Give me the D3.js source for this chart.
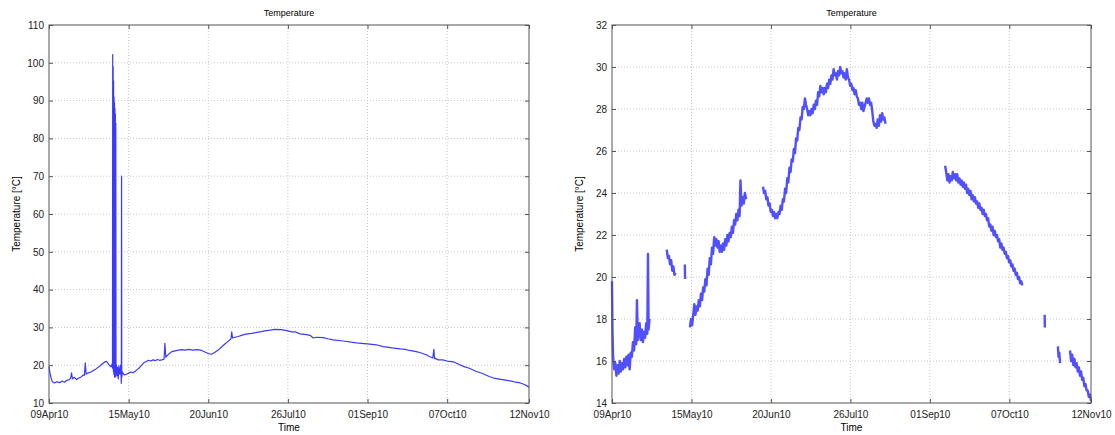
<!DOCTYPE html>
<html>
<head>
<meta charset="utf-8">
<script src="https://cdn.jsdelivr.net/npm/d3@7"></script>
<style>
  body { margin: 0; background: #fff; }
  svg { font-family: "Liberation Sans", Arial, sans-serif; }
  .grid line { stroke: #c8c8c8; stroke-dasharray: 1,2; }
  .tick text { font-size: 10px; fill: #222; }
  .axis path, .axis line { stroke: #555; }
</style>
</head>
<body>
<svg id="chart" width="1115" height="435"></svg>
<script>
// x = days since 09 Apr 2010
const startDate = new Date(2010, 3, 9);
const tickDays = [0, 36, 72, 108, 144, 180, 217];
const tickLabels = ["09Apr10", "15May10", "20Jun10", "26Jul10", "01Sep10", "07Oct10", "12Nov10"];
const leftTicksY = [10, 20, 30, 40, 50, 60, 70, 80, 90, 100, 110];
const rightTicksY = [14, 16, 18, 20, 22, 24, 26, 28, 30, 32];

// raw record (left panel): [day, °C]
const rawSeries = [
  [0, 19.6], [0.5, 17.8], [1, 16.5], [1.5, 15.6], [2.5, 15.3], [3.5, 15.6], [5, 15.4], [6, 15.8], [7, 15.5],
  [8, 16.0], [9, 16.1], [9.8, 16.6], [10.2, 18.0], [10.6, 16.4], [11.5, 16.8], [12.5, 16.2], [13.5, 16.6],
  [14.5, 16.9], [15.5, 17.4], [16, 17.3], [16.4, 20.6], [16.8, 17.6], [17.5, 17.9], [19, 18.2], [21, 18.9],
  [23, 19.8], [25, 20.8], [26, 21.0], [27, 20.2], [28, 19.6], [28.5, 20.3], [28.7, 19.2], [28.8, 102.2],
  [28.9, 19.5], [29.0, 99.0], [29.1, 18.4], [29.2, 95.2], [29.3, 17.6], [29.4, 91.0], [29.5, 19.0],
  [29.6, 89.5], [29.7, 16.8], [29.8, 88.0], [29.9, 18.2], [30.0, 86.5], [30.1, 17.0], [30.2, 84.0],
  [30.3, 18.5], [30.5, 20.1], [30.7, 17.2], [31, 19.4], [31.3, 16.4], [31.6, 19.8], [32, 17.6], [32.4, 20.0],
  [32.7, 15.2], [32.8, 70.0], [32.9, 16.8], [33.2, 18.2], [34, 17.4], [35, 17.6], [36, 17.9], [37, 18.2],
  [38, 18.0], [39, 18.4], [40, 18.9], [41, 19.4], [42, 20.1], [43, 20.7], [44, 21.0], [45, 21.3], [46, 21.1],
  [47, 21.4], [48, 21.2], [49, 21.5], [50, 21.3], [51, 21.4], [52, 21.6], [52.4, 25.8], [52.8, 22.1],
  [53.5, 22.6], [54.5, 23.1], [55.5, 23.6], [57, 23.8], [58.5, 24.0], [60, 24.1], [61.5, 24.0], [63, 24.2],
  [65, 24.0], [67, 24.1], [69, 23.9], [70.5, 23.5], [72, 23.1], [73.5, 22.9], [75, 23.4], [76.5, 24.0],
  [78, 24.8], [79.5, 25.6], [81, 26.3], [82.3, 27.0], [82.6, 28.8], [83, 27.2], [84, 27.4], [85.6, 27.6],
  [87, 27.9], [89, 28.2], [91.6, 28.4], [94, 28.7], [96, 28.9], [97.6, 29.1], [100, 29.3], [102, 29.5],
  [105, 29.4], [107, 29.2], [109.7, 28.8], [111.5, 28.8], [113.5, 28.3], [116.5, 28.1], [118, 27.9],
  [119.5, 27.2], [121, 27.4], [124, 27.3], [126, 27.0], [128.5, 26.7], [133, 26.4], [139, 25.9],
  [145, 25.6], [148, 25.4], [151, 24.9], [153, 24.8], [155, 24.6], [158.7, 24.3], [161, 24.2], [163, 23.9],
  [166, 23.6], [168, 23.3], [170.8, 22.7], [172, 22.3], [173.5, 21.9], [174, 24.2], [174.3, 21.7],
  [174.6, 21.8], [176, 21.4], [178, 21.4], [180, 21.1], [182.8, 20.9], [185, 20.3], [187.3, 19.7],
  [190, 19.2], [193, 18.4], [196, 17.8], [199, 17.0], [201, 16.6], [203, 16.4], [205, 16.2], [207, 16.0],
  [209, 15.8], [211, 15.5], [213, 15.3], [215, 14.9], [217, 14.2]
];

// cleaned record (right panel): [day, °C], null = removed data
const cleanSeries = [
  [0, 19.8], [0.2, 17.5], [0.5, 16.2], [1, 15.6], [1.5, 15.9], [2, 15.3], [2.5, 15.8], [3, 15.4],
  [3.5, 16.0], [4, 15.5], [4.5, 15.9], [5, 15.6], [5.5, 16.1], [6, 15.7], [6.5, 16.2], [7, 15.8],
  [7.5, 16.3], [8, 15.6], [8.5, 16.4], [9, 16.2], [9.5, 16.9], [10, 16.5], [10.5, 17.6], [11, 16.8],
  [11.3, 18.9], [11.7, 17.0], [12, 17.5], [12.5, 17.8], [13, 17.0], [13.5, 17.5], [14, 16.9], [14.5, 17.4],
  [15, 17.1], [15.5, 17.8], [16, 17.3], [16.3, 21.1], [16.6, 17.5], [17, 18.0], [17.1, null],
  [24.8, 21.3], [25.3, 20.9], [25.8, 21.0], [26.3, 20.6], [26.8, 20.8], [27.3, 20.3], [27.8, 20.5],
  [28.3, 20.1], [28.8, 20.2], [28.9, null],
  [33, 20.6], [33.1, 19.9], [33.2, null],
  [35.3, 17.6], [35.8, 18.0], [36.3, 17.7], [36.8, 18.2], [37.3, 18.7], [37.8, 18.2], [38.3, 18.6],
  [38.8, 18.4], [39.3, 18.9], [39.8, 18.6], [40.3, 19.2], [40.8, 18.9], [41.3, 19.5], [41.8, 19.3],
  [42.3, 19.9], [42.8, 19.6], [43.3, 20.4], [43.8, 20.1], [44.3, 20.9], [44.8, 20.6], [45.3, 21.4],
  [45.8, 21.1], [46.3, 21.9], [46.8, 21.5], [47.3, 21.8], [47.8, 21.4], [48.3, 21.7], [48.8, 21.2],
  [49.3, 21.5], [49.8, 21.2], [50.3, 21.6], [50.8, 21.3], [51.3, 21.8], [51.8, 21.5], [52.3, 22.0],
  [52.8, 21.7], [53.3, 22.1], [53.8, 21.9], [54.3, 22.4], [54.8, 22.1], [55.3, 22.7], [55.8, 22.5],
  [56.3, 23.0], [56.8, 22.7], [57.3, 23.2], [57.8, 22.9], [58.2, 24.6], [58.7, 23.4], [59.2, 23.8],
  [59.7, 23.5], [60.2, 24.0], [60.8, 23.7], [60.9, null],
  [68.4, 24.3], [68.9, 24.0], [69.4, 24.1], [69.9, 23.7], [70.4, 23.8], [70.9, 23.4], [71.4, 23.5],
  [71.9, 23.1], [72.4, 23.2], [72.9, 22.9], [73.4, 23.1], [73.9, 22.8], [74.4, 23.0], [74.9, 22.8],
  [75.4, 23.1], [75.9, 23.0], [76.4, 23.4], [76.9, 23.2], [77.4, 23.7], [77.9, 23.6], [78.4, 24.2],
  [78.9, 24.0], [79.4, 24.7], [79.9, 24.5], [80.4, 25.2], [80.9, 25.0], [81.4, 25.6], [81.9, 25.5],
  [82.4, 26.1], [82.9, 25.9], [83.4, 26.6], [83.9, 26.5], [84.4, 27.1], [84.9, 27.0], [85.4, 27.6],
  [85.9, 27.5], [86.4, 28.1], [86.9, 28.0], [87.4, 28.5], [87.9, 28.2], [88.4, 28.0], [88.9, 27.7],
  [89.4, 27.9], [89.9, 27.7], [90.4, 28.0], [90.9, 27.8], [91.4, 28.2], [91.9, 28.0], [92.4, 28.4],
  [92.9, 28.2], [93.4, 28.8], [93.9, 28.6], [94.4, 29.1], [94.9, 28.8], [95.4, 29.0], [95.9, 28.7],
  [96.4, 29.0], [96.9, 28.8], [97.4, 29.2], [97.9, 29.0], [98.4, 29.4], [98.9, 29.2], [99.4, 29.6],
  [99.9, 29.4], [100.4, 29.9], [100.9, 29.6], [101.4, 29.7], [101.9, 29.4], [102.4, 29.8], [102.9, 29.6],
  [103.4, 30.0], [103.9, 29.7], [104.4, 29.8], [104.9, 29.5], [105.4, 29.7], [105.9, 29.4], [106.4, 29.9],
  [106.9, 29.5], [107.4, 29.4], [107.9, 29.1], [108.4, 29.2], [108.9, 28.9], [109.4, 29.0], [109.9, 28.7],
  [110.4, 28.9], [110.9, 28.6], [111.4, 28.5], [111.9, 28.2], [112.4, 28.3], [112.9, 28.0], [113.4, 28.3],
  [113.9, 27.9], [114.4, 28.1], [114.9, 28.3], [115.4, 28.5], [115.9, 28.3], [116.4, 28.5], [116.9, 28.2],
  [117.4, 28.3], [117.9, 27.9], [118.4, 27.4], [118.9, 27.2], [119.4, 27.3], [119.9, 27.1], [120.4, 27.5],
  [120.9, 27.2], [121.4, 27.7], [121.9, 27.4], [122.4, 27.8], [122.9, 27.5], [123.4, 27.6], [123.9, 27.3],
  [124.0, null],
  [150.9, 25.3], [151.4, 25.0], [151.9, 24.6], [152.4, 24.9], [152.9, 24.5], [153.4, 24.8], [153.9, 24.6],
  [154.4, 25.0], [154.9, 24.7], [155.4, 24.9], [155.9, 24.6], [156.4, 24.9], [156.9, 24.5], [157.4, 24.7],
  [157.9, 24.4], [158.4, 24.6], [158.9, 24.3], [159.4, 24.5], [159.9, 24.2], [160.4, 24.4], [160.9, 24.0],
  [161.4, 24.2], [161.9, 23.9], [162.4, 24.1], [162.9, 23.7], [163.4, 23.9], [163.9, 23.6], [164.4, 23.8],
  [164.9, 23.5], [165.4, 23.6], [165.9, 23.3], [166.4, 23.5], [166.9, 23.2], [167.4, 23.3], [167.9, 23.0],
  [168.4, 23.2], [168.9, 22.9], [169.4, 23.0], [169.9, 22.7], [170.4, 22.8], [170.9, 22.4], [171.4, 22.5],
  [171.9, 22.2], [172.4, 22.4], [172.9, 22.0], [173.4, 22.2], [173.9, 21.9], [174.4, 22.0], [174.9, 21.7],
  [175.4, 21.8], [175.9, 21.4], [176.4, 21.6], [176.9, 21.3], [177.4, 21.4], [177.9, 21.1], [178.4, 21.2],
  [178.9, 20.9], [179.4, 21.0], [179.9, 20.7], [180.4, 20.8], [180.9, 20.5], [181.4, 20.6], [181.9, 20.3],
  [182.4, 20.4], [182.9, 20.1], [183.4, 20.2], [183.9, 19.9], [184.4, 20.0], [184.9, 19.7], [185.4, 19.8],
  [185.9, 19.6], [186.0, null],
  [196, 18.2], [196.1, 17.6], [196.2, null],
  [202, 16.7], [202.3, 16.2], [202.6, 16.4], [203, 15.9], [203.1, null],
  [207.5, 16.5], [208, 16.0], [208.5, 16.3], [209, 15.8], [209.5, 16.1], [210, 15.7], [210.5, 15.9],
  [211, 15.5], [211.5, 15.7], [212, 15.3], [212.5, 15.5], [213, 15.1], [213.5, 15.2], [214, 14.8],
  [214.5, 14.9], [215, 14.6], [215.5, 14.6], [216, 14.3], [216.5, 14.4], [217, 14.1]
];

const svg = d3.select("#chart");
const toDate = (d) => new Date(startDate.getTime() + d * 864e5);

function drawPanel(opts) {
  const { x0, x1, y0, y1, yDomain, yTicks, series, strokeW, color } = opts;
  const g = svg.append("g");

  const x = d3.scaleTime()
    .domain([toDate(tickDays[0]), toDate(tickDays[tickDays.length - 1])])
    .range([x0, x1]);
  const y = d3.scaleLinear().domain(yDomain).range([y1, y0]);

  const xTickVals = tickDays.map(toDate);

  // dotted grid
  const grid = g.append("g").attr("class", "grid");
  grid.selectAll("line.gx")
    .data(xTickVals.slice(1, -1))
    .join("line")
    .attr("class", "gx")
    .attr("x1", (d) => x(d)).attr("x2", (d) => x(d))
    .attr("y1", y0).attr("y2", y1);
  grid.selectAll("line.gy")
    .data(yTicks.slice(1, -1))
    .join("line")
    .attr("class", "gy")
    .attr("x1", x0).attr("x2", x1)
    .attr("y1", (d) => y(d)).attr("y2", (d) => y(d));

  const line = d3.line()
    .defined((p) => p[1] != null)
    .x((p) => x(toDate(p[0])))
    .y((p) => y(p[1]));
  g.append("path")
    .datum(series)
    .attr("fill", "none")
    .attr("stroke", color)
    .attr("stroke-width", strokeW)
    .attr("stroke-linejoin", "round")
    .attr("d", line);

  // ticks point inwards on all four sides
  g.append("g").attr("class", "axis")
    .attr("transform", `translate(0,${y1})`)
    .call(d3.axisBottom(x).tickValues(xTickVals)
      .tickFormat((d, i) => tickLabels[i]).tickSize(-4).tickPadding(8))
    .call((s) => s.select(".domain").remove());

  g.append("g").attr("class", "axis")
    .attr("transform", `translate(0,${y0})`)
    .call(d3.axisTop(x).tickValues(xTickVals).tickFormat("").tickSize(-4))
    .call((s) => s.select(".domain").remove());

  g.append("g").attr("class", "axis")
    .attr("transform", `translate(${x0},0)`)
    .call(d3.axisLeft(y).tickValues(yTicks).tickSize(-4).tickPadding(5))
    .call((s) => s.select(".domain").remove());

  g.append("g").attr("class", "axis")
    .attr("transform", `translate(${x1},0)`)
    .call(d3.axisRight(y).tickValues(yTicks).tickFormat("").tickSize(-4))
    .call((s) => s.select(".domain").remove());

  g.append("rect")
    .attr("x", x0).attr("y", y0)
    .attr("width", x1 - x0).attr("height", y1 - y0)
    .attr("fill", "none").attr("stroke", "#555");

  g.append("text")
    .attr("x", (x0 + x1) / 2).attr("y", 16)
    .attr("text-anchor", "middle")
    .attr("font-size", 9)
    .text("Temperature");

  g.append("text")
    .attr("x", (x0 + x1) / 2).attr("y", 431)
    .attr("text-anchor", "middle")
    .attr("font-size", 10)
    .text("Time");

  g.append("text")
    .attr("transform", `translate(${x0 - 29},${(y0 + y1) / 2}) rotate(-90)`)
    .attr("text-anchor", "middle")
    .attr("font-size", 10)
    .text("Temperature [°C]");
}

drawPanel({
  x0: 49, x1: 529, y0: 25, y1: 403,
  yDomain: [10, 110], yTicks: leftTicksY,
  series: rawSeries, strokeW: 1.2, color: "#3a3aff"
});

drawPanel({
  x0: 612, x1: 1091, y0: 25, y1: 403,
  yDomain: [14, 32], yTicks: rightTicksY,
  series: cleanSeries, strokeW: 2.4, color: "#5050ff"
});
</script>
</body>
</html>
